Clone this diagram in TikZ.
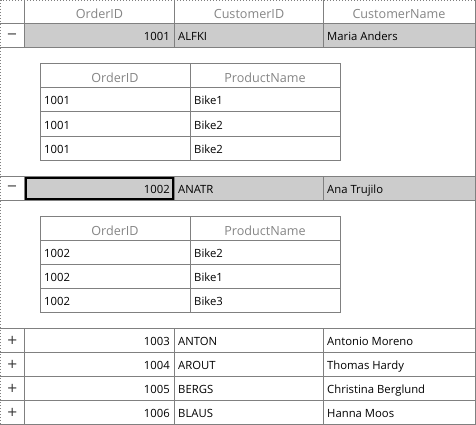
\documentclass[tikz,border=0pt]{standalone}
\usepackage{fontspec}
\setmainfont{Open Sans}
\newfontfamily\symfont{DejaVu Sans}
\definecolor{gridc}{HTML}{808080}
\definecolor{selfill}{HTML}{CCCCCC}
\definecolor{headc}{HTML}{858585}
\definecolor{iconc}{HTML}{333333}
\begin{document}
\begin{tikzpicture}[x=1pt,y=-1pt,
  gl/.style={draw=gridc,line width=1pt},
  hd/.style={font=\fontsize{12.6}{14}\selectfont,text=headc,inner sep=0pt,anchor=base},
  dl/.style={font=\fontsize{11.3}{13}\selectfont,inner sep=0pt,anchor=base west},
  dr/.style={font=\fontsize{11.3}{13}\selectfont,inner sep=0pt,anchor=base east},
  sg/.style={font=\symfont\fontsize{13}{14}\selectfont,text=iconc,inner sep=0pt,anchor=center}]
\useasboundingbox (0,0) rectangle (476,425);
% fills
\fill[selfill] (24,24) rectangle (475,48);
\fill[selfill] (24,176) rectangle (475,200);
% outer dotted border
\draw[gridc,dotted,line width=1pt] (0.5,424) -- (0.5,0.5) -- (475,0.5);
\draw[gl] (475,0) -- (475,424.5);
% horizontal lines
\foreach \yy in {24,48,176,200,328,352,376,400,424} \draw[gl] (0,\yy) -- (475,\yy);
% vertical lines
\foreach \xx in {24,174,323} {
  \draw[gl] (\xx,0) -- (\xx,48);
  \draw[gl] (\xx,176) -- (\xx,200);
  \draw[gl] (\xx,328) -- (\xx,424);
}
% selected cell
\draw[black,line width=2pt] (26,178) rectangle (173,199);
% header
\node[hd] (h1) at (99.5,19) {OrderID};
\node[hd] (h2) at (249,19) {CustomerID};
\node[hd] (h3) at (399,19) {CustomerName};
% rows
\node[sg] (s1) at (12,36.5) {−};
\node[dr] (o1) at (170,41) {1001};
\node[dl] (c1) at (178,41) {ALFKI};
\node[dl] (n1) at (327,41) {Maria Anders};
\node[sg] (s2) at (12,188.5) {−};
\node[dr] (o2) at (170,193) {1002};
\node[dl] (c2) at (178,193) {ANATR};
\node[dl] (n2) at (327,193) {Ana Trujilo};
\node[sg] (s3) at (12.3,340.5) {+};
\node[dr] (o3) at (170,345) {1003};
\node[dl] (c3) at (178,345) {ANTON};
\node[dl] (n3) at (327,345) {Antonio Moreno};
\node[sg] (s4) at (12.3,364.5) {+};
\node[dr] (o4) at (170,369) {1004};
\node[dl] (c4) at (178,369) {AROUT};
\node[dl] (n4) at (327,369) {Thomas Hardy};
\node[sg] (s5) at (12.3,388.5) {+};
\node[dr] (o5) at (170,393) {1005};
\node[dl] (c5) at (178,393) {BERGS};
\node[dl] (n5) at (327,393) {Christina Berglund};
\node[sg] (s6) at (12.3,412.5) {+};
\node[dr] (o6) at (170,417) {1006};
\node[dl] (c6) at (178,417) {BLAUS};
\node[dl] (n6) at (327,417) {Hanna Moos};
% nested table 1
\draw[gl] (40,64) rectangle (340,160);
\foreach \yy in {88,112,136} \draw[gl] (40,\yy) -- (340,\yy);
\draw[gl] (190,64) -- (190,160);
\node[hd] (ah1) at (115,83) {OrderID};
\node[hd] (ah2) at (265,83) {ProductName};
\node[dl] (a11) at (44,105) {1001};
\node[dl] (a12) at (194,105) {Bike1};
\node[dl] (a21) at (44,129) {1001};
\node[dl] (a22) at (194,129) {Bike2};
\node[dl] (a31) at (44,153) {1001};
\node[dl] (a32) at (194,153) {Bike2};
% nested table 2
\draw[gl] (40,216) rectangle (340,312);
\foreach \yy in {240,264,288} \draw[gl] (40,\yy) -- (340,\yy);
\draw[gl] (190,216) -- (190,312);
\node[hd] (bh1) at (115,235) {OrderID};
\node[hd] (bh2) at (265,235) {ProductName};
\node[dl] (b11) at (44,257) {1002};
\node[dl] (b12) at (194,257) {Bike2};
\node[dl] (b21) at (44,281) {1002};
\node[dl] (b22) at (194,281) {Bike1};
\node[dl] (b31) at (44,305) {1002};
\node[dl] (b32) at (194,305) {Bike3};
\end{tikzpicture}
\end{document}
